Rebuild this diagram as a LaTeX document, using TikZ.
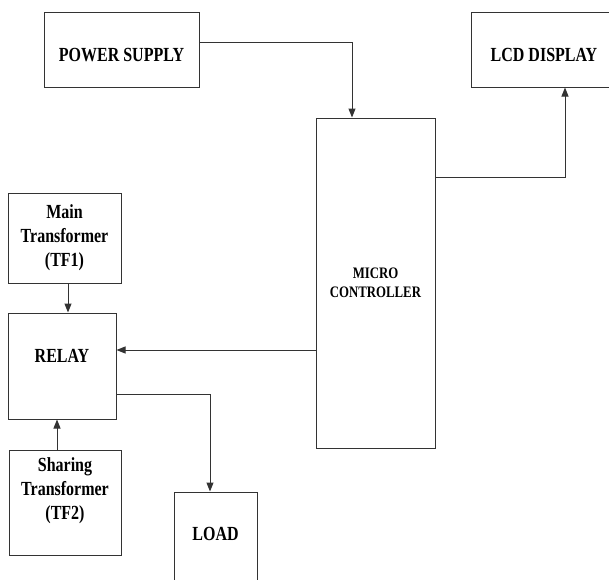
\documentclass[tikz,border=0pt]{standalone}
\usepackage{fontspec}
\newfontfamily\blockfont{Liberation Serif}[FakeStretch=0.8]
\usetikzlibrary{arrows.meta, positioning}

\begin{document}
\begin{tikzpicture}[x=1pt, y=-1pt, node distance=30pt,
    box/.style={rectangle, draw=black!80, line width=1pt, inner sep=2pt, align=center,
      font=\blockfont\fontsize{20}{24}\selectfont\bfseries},
    arr/.style={-{Triangle[length=9pt, width=7pt]}, line width=1pt, draw=black!80}]
    \clip (0,0) rectangle (609,579);
    \fill[white] (0,0) rectangle (609,579);
    \node[box, minimum width=155pt, minimum height=75pt, text height=28pt, text depth=4pt] (power) at (121.5,49.5) {POWER SUPPLY};
    \node[box, minimum width=146pt, minimum height=75pt, text height=28pt, text depth=4pt] (lcd) at (544,49.5) {LCD DISPLAY};
    \node[box, minimum width=119pt, minimum height=330pt,
      font=\blockfont\fontsize{16}{19}\selectfont\bfseries] (micro) at (375.5,283) {MICRO\\CONTROLLER};
    \node[box, minimum width=113pt, minimum height=90pt] (tf1) at (64.5,238) {Main\\Transformer\\(TF1)};
    \node[box, minimum width=108pt, minimum height=106pt, text height=4pt, text depth=11pt,
      below=29pt of tf1.south west, anchor=north west] (relay) {RELAY};
    \node[box, minimum width=112pt, minimum height=105pt, below=30pt of relay.south west,
      anchor=north west, xshift=1pt] (tf2) {Sharing\\Transformer\\(TF2)\\[-4pt]\strut};
    \node[box, minimum width=83pt, minimum height=98pt, text height=7pt, text depth=8pt] (load) at (215.5,541) {LOAD};
    \draw[arr] ([yshift=7.5pt]power.east) -| ([xshift=-23.5pt]micro.north);
    \draw[arr] ([yshift=106pt]micro.east) -| ([xshift=21pt]lcd.south);
    \draw[arr] ([yshift=-67pt]micro.west) -- ([yshift=-67pt]micro.west -| relay.east);
    \draw[arr] ([yshift=-28pt]relay.east) -| ([xshift=-5.5pt]load.north);
    \draw[arr] ([xshift=3.5pt]tf1.south) -- ([xshift=3.5pt]tf1.south |- relay.north);
    \draw[arr] ([xshift=-8pt]tf2.north) -- ([xshift=-8pt]tf2.north |- relay.south);
  \end{tikzpicture}
\end{document}
